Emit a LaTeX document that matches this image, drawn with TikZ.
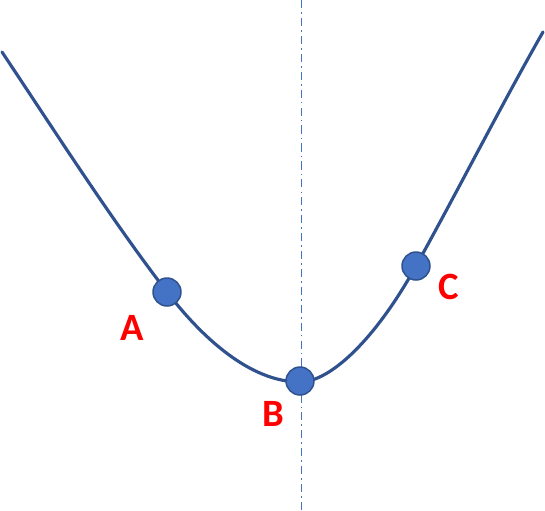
\documentclass[tikz,border=0pt]{standalone}
\usepackage{fontspec}
\setmainfont{Carlito}
\usepackage{tikz}
\definecolor{curveblue}{RGB}{47,82,143}
\definecolor{dotblue}{RGB}{68,114,196}

\tikzset{
  pt/.style={circle, fill=dotblue, draw=curveblue, line width=0.85pt, minimum size=0.56cm, inner sep=0pt},
  lbl/.style={text=red, font=\fontsize{22}{24}\selectfont\bfseries, inner sep=0pt}
}

\begin{document}
\begin{tikzpicture}[x=0.02cm, y=-0.02cm]
  \useasboundingbox (0,0) rectangle (545,511);

  % axis of symmetry
  \coordinate (axtop) at (301,0);
  \coordinate (axbot) at (301,511);
  \draw[dotblue, line width=0.5pt, dash pattern=on 4.7pt off 2.3pt on 0.9pt off 2.3pt] (axtop) -- (axbot);

  % points on the curve
  \coordinate (start) at (2,52);
  \coordinate (end) at (543,32);
  \coordinate (a) at (167,292);
  \coordinate (b) at (300,382);
  \coordinate (c) at (416,266);

  % the curve
  \draw[curveblue, line width=1.8pt, line cap=round]
    (start) .. controls (57,134.5) and (112,220.5) .. (a)
            .. controls (202,337.5) and (250,382) .. (b)
            .. controls (330,382) and (375,340) .. (c)
            .. controls (456,194) and (503,102) .. (end);

  \node[pt] (pA) at (a) {};
  \node[pt] (pB) at (300,381) {};
  \node[pt] (pC) at (c) {};

  \node[lbl] (lA) at (132,328) {A};
  \node[lbl] (lB) at (273,414) {B};
  \node[lbl] (lC) at (449,287) {C};
\end{tikzpicture}
\end{document}
